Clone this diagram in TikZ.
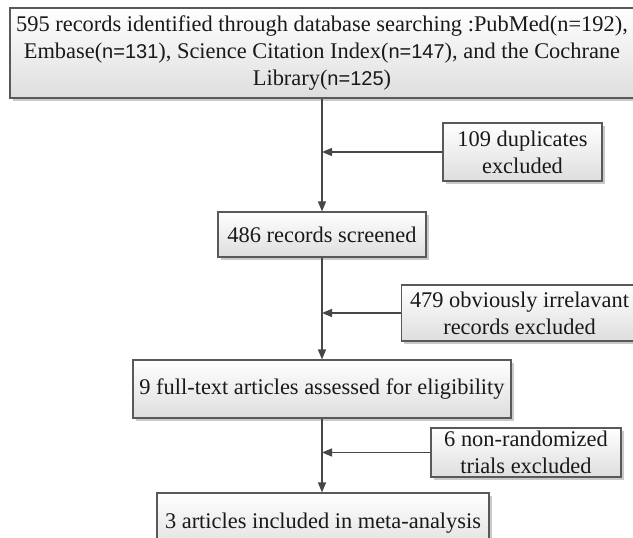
\documentclass[tikz,border=0pt]{standalone}
\usepackage{fontspec}
\setmainfont{Liberation Serif}
\newfontfamily\nfont{Liberation Sans}
\usetikzlibrary{arrows.meta,shadows,calc}
\begin{document}
\begin{tikzpicture}[x=1pt,y=-1pt,
  box/.style={draw=black!65, line width=1.1pt, top color=white, bottom color=black!13,
    drop shadow={shadow xshift=2.5pt, shadow yshift=-2.5pt, fill=black!35, opacity=0.6},
    inner sep=0pt, align=center, font=\fontsize{22.4}{27}\selectfont, text=black!90},
  arr/.style={draw=black!72, line width=1.3pt, -{Triangle[length=10pt,width=8pt]}}]
\useasboundingbox (0,0) rectangle (633,538);
\clip (0,0) rectangle (633,538);
\node[box, minimum width=624pt, minimum height=90pt] (b1) at (322,53)
  {595 records identified through database searching :PubMed(n=192),\\
   Embase({\nfont\fontsize{20}{27}\selectfont n=131}), Science Citation Index({\nfont\fontsize{20}{27}\selectfont n=147}), and the Cochrane\\
   Library({\nfont\fontsize{20}{27}\selectfont n=125})};
\node[box, minimum width=159pt, minimum height=58pt] (b2) at (522.5,152) {109 duplicates\\excluded};
\node[box, minimum width=208pt, minimum height=45pt] (b3) at (322,234.5) {486 records screened};
\node[box, minimum width=236pt, minimum height=56pt] (b4) at (519.5,313) {479 obviously irrelavant\\records excluded};
\node[box, minimum width=378pt, minimum height=58pt] (b5) at (322,389) {9 full-text articles assessed for eligibility};
\node[box, minimum width=190pt, minimum height=49pt] (b6) at (526,452.5) {6 non-randomized\\trials excluded};
\node[box, minimum width=332pt, minimum height=60pt] (b7) at (323,523) {3 articles included in meta-analysis};
\draw[arr] (b1.south) -- (b3.north);
\draw[arr] (b3.south) -- (b5.north);
\draw[arr] (b5.south) -- (b5.south |- b7.north);
\draw[arr] (b2.west) -- (b2.west -| b1.south);
\draw[arr] (b4.west) -- (b4.west -| b1.south);
\draw[arr] (b6.west) -- (b6.west -| b1.south);
\end{tikzpicture}
\end{document}
